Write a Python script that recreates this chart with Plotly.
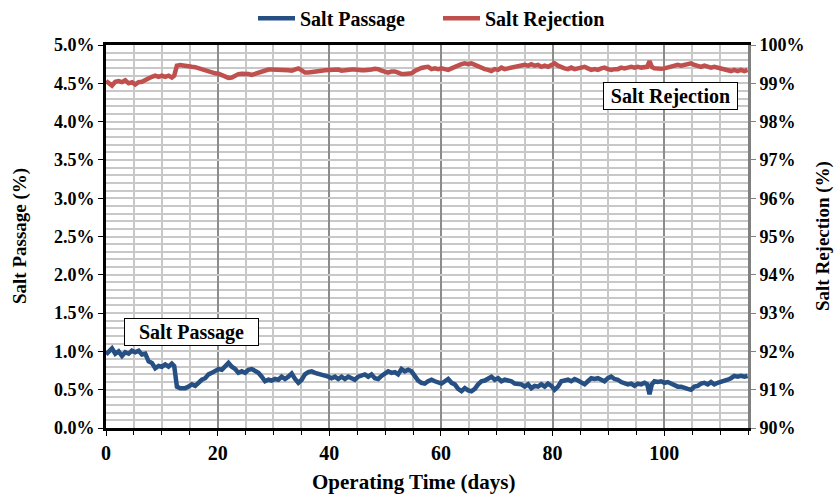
import plotly.graph_objects as go

# Operating time (days) at each logged reading
days = [
    0.0, 1.07, 1.66, 2.26, 2.86, 3.45, 4.05, 4.65, 5.24, 5.84,
    6.43, 7.03, 7.63, 8.22, 8.82, 9.42, 10.01, 10.61, 11.2, 11.8,
    12.22, 12.7, 13.29, 14.19, 14.79, 15.38, 15.98, 16.57, 17.17, 17.77,
    18.36, 18.96, 19.55, 20.15, 20.75, 21.34, 21.94, 22.53, 23.13, 23.72,
    24.32, 24.92, 25.51, 26.11, 26.7, 27.3, 27.9, 28.49, 29.09, 29.68,
    30.28, 30.88, 31.47, 32.07, 32.66, 33.26, 33.86, 34.45, 35.05, 35.64,
    36.24, 36.84, 37.43, 38.03, 38.62, 39.22, 39.82, 40.41, 41.01, 41.6,
    42.2, 42.8, 43.39, 43.99, 44.58, 45.18, 45.78, 46.37, 46.97, 47.56,
    48.16, 48.76, 49.35, 49.95, 50.54, 51.14, 51.74, 52.33, 52.93, 53.52,
    54.12, 54.72, 55.31, 55.91, 56.5, 57.1, 57.7,
    58.31, 58.91, 59.5, 60.1, 60.7, 61.29, 61.89, 62.48, 63.08, 63.68,
    64.27, 64.87, 65.46, 66.06, 66.66, 67.25, 67.85, 68.44, 69.04, 69.64,
    70.23, 70.83, 71.42, 72.02, 72.62, 73.21, 73.81, 74.4, 75.0, 75.6,
    76.19, 76.79, 77.38, 77.98, 78.58, 79.17, 79.77, 80.36, 80.96, 81.56,
    82.15, 82.75, 83.34, 83.94, 84.54, 85.13, 85.73, 86.32, 86.92, 87.52,
    88.11, 88.71, 89.3, 89.9, 90.5, 91.09, 91.69, 92.28, 92.88, 93.48,
    94.07, 94.67, 95.26, 95.86, 96.46, 96.94, 97.36, 97.78, 98.24, 98.84,
    99.44, 100.03, 100.63, 101.22, 101.82, 102.42, 103.01, 103.61, 104.2, 104.8,
    105.4, 105.99, 106.59, 107.18, 107.78, 108.38, 108.97, 109.57, 110.16, 110.76,
    111.36, 111.95, 112.55, 113.14, 113.74, 114.34, 114.93,
]

# Salt passage (%), left axis
salt_passage = [
    0.96, 1.04, 0.97, 1.00, 0.94, 0.99, 0.97, 1.01, 0.99, 1.01,
    0.96, 0.97, 0.87, 0.85, 0.78, 0.81, 0.80, 0.83, 0.80, 0.84,
    0.81, 0.54, 0.52, 0.52, 0.54, 0.57, 0.55, 0.60, 0.63, 0.65,
    0.70, 0.72, 0.74, 0.77, 0.76, 0.81, 0.85, 0.80, 0.77, 0.72,
    0.74, 0.72, 0.76, 0.77, 0.74, 0.72, 0.67, 0.61, 0.63, 0.62,
    0.64, 0.63, 0.67, 0.64, 0.67, 0.71, 0.64, 0.59, 0.63, 0.70,
    0.73, 0.74, 0.72, 0.71, 0.70, 0.68, 0.67, 0.65, 0.67, 0.64,
    0.67, 0.64, 0.67, 0.65, 0.63, 0.67, 0.68, 0.70, 0.67, 0.70,
    0.65, 0.64, 0.68, 0.72, 0.74, 0.72, 0.73, 0.70, 0.77, 0.74,
    0.76, 0.74, 0.67, 0.62, 0.59, 0.58, 0.61,
    0.63, 0.61, 0.60, 0.58, 0.61, 0.64, 0.59, 0.57, 0.51, 0.48,
    0.52, 0.49, 0.48, 0.51, 0.57, 0.61, 0.62, 0.64, 0.67, 0.63,
    0.65, 0.61, 0.63, 0.62, 0.61, 0.58, 0.57, 0.57, 0.54, 0.57,
    0.52, 0.55, 0.54, 0.57, 0.54, 0.58, 0.55, 0.50, 0.54, 0.61,
    0.62, 0.63, 0.61, 0.64, 0.62, 0.59, 0.57, 0.61, 0.65, 0.64,
    0.65, 0.63, 0.61, 0.65, 0.67, 0.64, 0.63, 0.60, 0.59, 0.57,
    0.58, 0.55, 0.58, 0.57, 0.59, 0.57, 0.44, 0.57, 0.61, 0.60,
    0.61, 0.59, 0.60, 0.58, 0.57, 0.54, 0.54, 0.52, 0.51, 0.50,
    0.54, 0.55, 0.58, 0.59, 0.57, 0.60, 0.57, 0.59, 0.60, 0.61,
    0.63, 0.65, 0.68, 0.67, 0.68, 0.67, 0.68,
]

# Salt rejection (%), right axis
salt_rejection = [
    99.06, 98.94, 99.04, 99.06, 99.03, 99.08, 99.00, 99.03, 98.97, 99.03,
    99.04, 99.09, 99.15, 99.17, 99.20, 99.17, 99.20, 99.17, 99.20, 99.15,
    99.20, 99.46, 99.48, 99.47, 99.45, 99.43, 99.42, 99.39, 99.36, 99.33,
    99.30, 99.27, 99.26, 99.25, 99.22, 99.18, 99.14, 99.15, 99.20, 99.24,
    99.25, 99.25, 99.24, 99.22, 99.25, 99.28, 99.32, 99.36, 99.36, 99.36,
    99.36, 99.36, 99.36, 99.34, 99.34, 99.33, 99.37, 99.39, 99.34, 99.28,
    99.28, 99.30, 99.31, 99.33, 99.33, 99.34, 99.35, 99.34, 99.35, 99.36,
    99.33, 99.35, 99.36, 99.36, 99.36, 99.34, 99.34, 99.34, 99.34, 99.36,
    99.38, 99.37, 99.33, 99.29, 99.28, 99.31, 99.31, 99.28, 99.24, 99.24,
    99.25, 99.26, 99.32, 99.37, 99.40, 99.42, 99.43,
    99.37, 99.39, 99.37, 99.39, 99.37, 99.35, 99.39, 99.43, 99.48, 99.50,
    99.52, 99.50, 99.52, 99.48, 99.43, 99.39, 99.37, 99.35, 99.32, 99.37,
    99.35, 99.41, 99.37, 99.39, 99.41, 99.43, 99.46, 99.46, 99.48, 99.46,
    99.50, 99.46, 99.48, 99.43, 99.46, 99.43, 99.48, 99.52, 99.46, 99.41,
    99.39, 99.37, 99.41, 99.37, 99.39, 99.43, 99.43, 99.39, 99.35, 99.37,
    99.35, 99.39, 99.41, 99.37, 99.35, 99.37, 99.37, 99.41, 99.39, 99.41,
    99.43, 99.41, 99.43, 99.41, 99.43, 99.43, 99.58, 99.43, 99.39, 99.37,
    99.38, 99.39, 99.41, 99.43, 99.46, 99.48, 99.46, 99.48, 99.50, 99.52,
    99.48, 99.46, 99.43, 99.46, 99.43, 99.41, 99.43, 99.41, 99.39, 99.37,
    99.35, 99.32, 99.35, 99.32, 99.35, 99.32, 99.35,
]

BLUE = "#264F84"
RED = "#C0504D"
FONT = "Liberation Serif, Times New Roman, Times, serif"
LIGHT_GRID = "#C8C8C8"
DARK_GRID = "#8C8C8C"

fig = go.Figure()
fig.add_trace(go.Scatter(
    x=days, y=salt_passage, name="Salt Passage", mode="lines",
    line=dict(color=BLUE, width=4.5), yaxis="y",
))
fig.add_trace(go.Scatter(
    x=days, y=salt_rejection, name="Salt Rejection", mode="lines",
    line=dict(color=RED, width=4.5), yaxis="y2",
))

x_tick_font = dict(family=FONT, size=20, color="black", weight="bold")
y_tick_font = dict(family=FONT, size=18, color="black", weight="bold")

W, H = 834, 497
L, R, T, B = 106, 86, 45, 69
pw, ph = W - L - R, H - T - B

fig.update_layout(
    width=W, height=H,
    margin=dict(l=L, r=R, t=T, b=B, autoexpand=False),
    paper_bgcolor="white", plot_bgcolor="white",
    font=dict(family=FONT, color="black"),
    showlegend=True,
    legend=dict(
        orientation="h", x=(253 - L) / pw, xanchor="left",
        y=1.07, yanchor="middle",
        font=dict(family=FONT, size=20, color="black", weight="bold"),
        bgcolor="rgba(0,0,0,0)", itemwidth=37,
        entrywidth=133, entrywidthmode="pixels",
    ),
    xaxis=dict(
        range=[0, 115], dtick=20, tick0=0,
        showgrid=True, gridcolor=DARK_GRID, gridwidth=1.5,
        minor=dict(dtick=5, showgrid=True, gridcolor=LIGHT_GRID, gridwidth=2,
                   ticks="outside", ticklen=4, tickcolor="black"),
        showline=True, linecolor="black", linewidth=3, mirror=True,
        ticks="outside", ticklen=5, tickcolor="black",
        zeroline=False, tickfont=x_tick_font,
    ),
    yaxis=dict(
        range=[0, 5], dtick=0.5, tick0=0, tickformat=".1f", ticksuffix="%",
        showgrid=True, gridcolor=LIGHT_GRID, gridwidth=2,
        minor=dict(dtick=0.1, showgrid=True, gridcolor=LIGHT_GRID, gridwidth=2),
        showline=True, linecolor="black", linewidth=3,
        ticks="outside", ticklen=5, tickcolor="black",
        zeroline=False, tickfont=y_tick_font,
    ),
    yaxis2=dict(
        range=[90, 100], dtick=1, tick0=90, ticksuffix="%",
        overlaying="y", side="right", showgrid=False,
        showline=True, linecolor="#808080", linewidth=3,
        ticks="outside", ticklen=5, tickcolor="#808080",
        zeroline=False, tickfont=y_tick_font,
    ),
)

label_font = dict(family=FONT, size=20, color="black", weight="bold")

# Boxed series labels inside the plot
fig.add_annotation(
    x=15.3, y=1.25, xref="x", yref="y", text="Salt Passage", showarrow=False,
    font=label_font, bordercolor="black", borderwidth=1, borderpad=1,
    bgcolor="white", width=131, height=24,
)
fig.add_annotation(
    x=101.2, y=4.33, xref="x", yref="y", text="Salt Rejection", showarrow=False,
    font=label_font, bordercolor="black", borderwidth=1, borderpad=1,
    bgcolor="white", width=131, height=24,
)


def paper_xy(px, py):
    return (px - L) / pw, (H - B - py) / ph


# Axis titles, placed by pixel position converted to paper coordinates
title_font = dict(family=FONT, size=19, color="black", weight="bold")
x_title_font = dict(family=FONT, size=21, color="black", weight="bold")
for text, px, py, angle, font in [
    ("Operating Time (days)", 413, 482, 0, x_title_font),
    ("Salt Passage (%)", 20, 236, -90, title_font),
    ("Salt Rejection (%)", 823, 236, -90, title_font),
]:
    ax, ay = paper_xy(px, py)
    fig.add_annotation(
        x=ax, y=ay, xref="paper", yref="paper", text=text, showarrow=False,
        textangle=angle, font=font, xanchor="center", yanchor="middle",
    )

fig.write_html("out.html")
